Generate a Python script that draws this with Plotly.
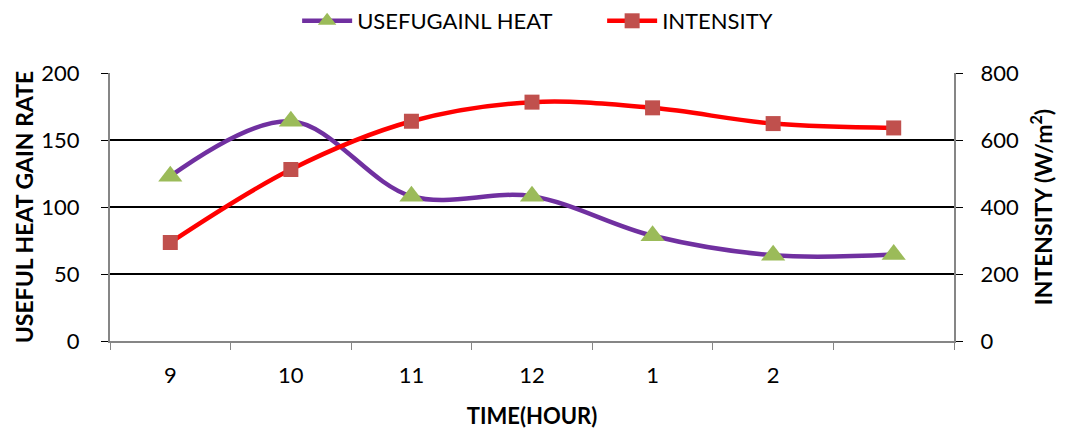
import plotly.graph_objects as go

hours = ["9", "10", "11", "12", "1", "2", " "]
useful_heat = [123, 164, 108, 108, 78.5, 64, 64.5]
intensity = [294, 512, 656, 713, 696, 649, 636]

FONT = "Lato, Open Sans, sans-serif"
GRAY = "#868686"

fig = go.Figure()
fig.add_trace(go.Scatter(
    x=hours, y=useful_heat, name="USEFUGAINL HEAT", yaxis="y",
    mode="lines+markers", line=dict(color="#7030A0", width=4.5, shape="spline", smoothing=1),
    marker=dict(symbol="triangle-up", size=21, color="#9BBB59"),
))
fig.add_trace(go.Scatter(
    x=hours, y=intensity, name="INTENSITY", yaxis="y2",
    mode="lines+markers", line=dict(color="#FF0000", width=4.5, shape="spline", smoothing=1),
    marker=dict(symbol="square", size=15, color="#C0504D"),
))

fig.update_layout(
    width=1065, height=437,
    margin=dict(l=110, r=110, t=73, b=94),
    paper_bgcolor="white", plot_bgcolor="white",
    font=dict(family=FONT, size=22, color="black"),
    showlegend=True,
    legend=dict(orientation="h", xref="container", yref="container",
                x=0.279, xanchor="left", y=1.0, yanchor="top",
                font=dict(size=22), itemwidth=50,
                entrywidth=240, entrywidthmode="pixels",
                traceorder="normal"),
    xaxis=dict(
        type="category", categoryorder="array", categoryarray=hours,
        tickson="boundaries", ticks="outside", ticklen=7, tickcolor=GRAY, tickwidth=1,
        showline=True, linecolor=GRAY, linewidth=2, showgrid=False, zeroline=False,
        tickfont=dict(size=22), ticklabelstandoff=14,
        title=dict(text="<b>TIME(HOUR)</b>", font=dict(size=22), standoff=21),
        range=[-0.5, 6.5],
    ),
    yaxis=dict(
        range=[0, 200], tickvals=[0, 50, 100, 150, 200],
        showgrid=True, gridcolor="black", gridwidth=2,
        ticks="outside", ticklen=7, tickcolor="black",
        showline=True, linecolor=GRAY, linewidth=2, zeroline=False,
        tickfont=dict(size=22), ticklabelstandoff=17,
        title=dict(text="<b>USEFUL HEAT GAIN RATE</b>", font=dict(size=23), standoff=1),
    ),
    yaxis2=dict(
        range=[0, 800], tickvals=[0, 200, 400, 600, 800], overlaying="y", side="right",
        showgrid=False, ticks="outside", ticklen=7, tickcolor="black",
        showline=True, linecolor=GRAY, linewidth=2, zeroline=False,
        tickfont=dict(size=22), ticklabelstandoff=13,
        title=dict(text="<b>INTENSITY (W/m<sup>2</sup>)</b>", font=dict(size=23), standoff=18),
    ),
)

fig.write_html("out.html")
